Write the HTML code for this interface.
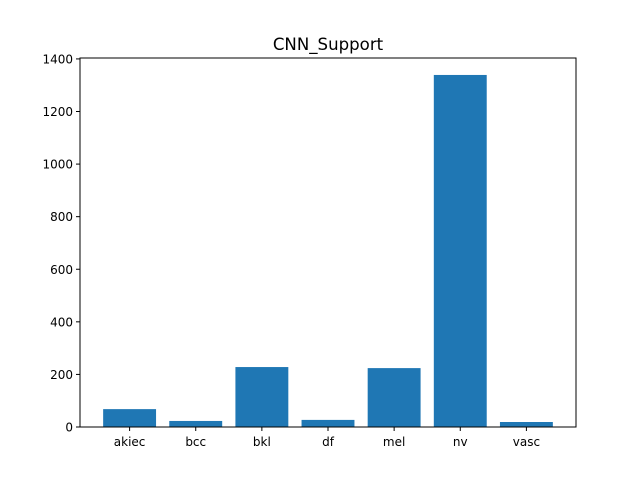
<!DOCTYPE html>
<html><head><meta charset="utf-8"><style>
body{margin:0;background:#fff;font-family:"DejaVu Sans","Liberation Sans",sans-serif}
</style></head><body>
<svg id="c" width="640" height="480" xmlns="http://www.w3.org/2000/svg" font-family="DejaVu Sans, Liberation Sans, sans-serif">
<rect width="640" height="480" fill="#fff"/>
<text x="328" y="50" font-size="16.6" text-anchor="middle">CNN_Support</text>
<g id="bars"></g><g id="ticks"></g>
<rect x="80" y="58" width="496" height="369" fill="none" stroke="#000" stroke-width="1"/>
</svg>
<script>
const categories=["akiec","bcc","bkl","df","mel","nv","vasc"];
const values=[68,23,228,27,224,1339,19];
const yTicks=[0,200,400,600,800,1000,1200,1400];
const L=80,R=576,T=58,B=427,xmin=-0.75,xmax=6.75,ymax=1403.5;
const sx=v=>L+(v-xmin)/(xmax-xmin)*(R-L);
const sy=v=>B-v/ymax*(B-T);
const ns="http://www.w3.org/2000/svg";
const bars=document.getElementById('bars'),ticks=document.getElementById('ticks');
function mk(tag,attrs,parent){const e=document.createElementNS(ns,tag);for(const k in attrs)e.setAttribute(k,attrs[k]);parent.appendChild(e);return e;}
categories.forEach((c,i)=>{
 const r=mk('rect',{x:sx(i-0.4),y:sy(values[i]),width:sx(i+0.4)-sx(i-0.4),height:B-sy(values[i]),fill:'#1f77b4'},bars);
 
 
 const t=mk('line',{x1:sx(i),x2:sx(i),y1:B,y2:B+4,stroke:'#000'},ticks);
 
 
 const l=mk('text',{x:sx(i),y:B+19,'font-size':12,'text-anchor':'middle'},ticks);
 l.textContent=c;
 
 
});
yTicks.forEach(v=>{
 const t=mk('line',{x1:L-4,x2:L,y1:sy(v),y2:sy(v),stroke:'#000'},ticks);
 
 
 const l=mk('text',{x:L-7,y:sy(v)+4.5,'font-size':12,'text-anchor':'end'},ticks);
 l.textContent=v;
 
 
});
</script>
</body></html>
